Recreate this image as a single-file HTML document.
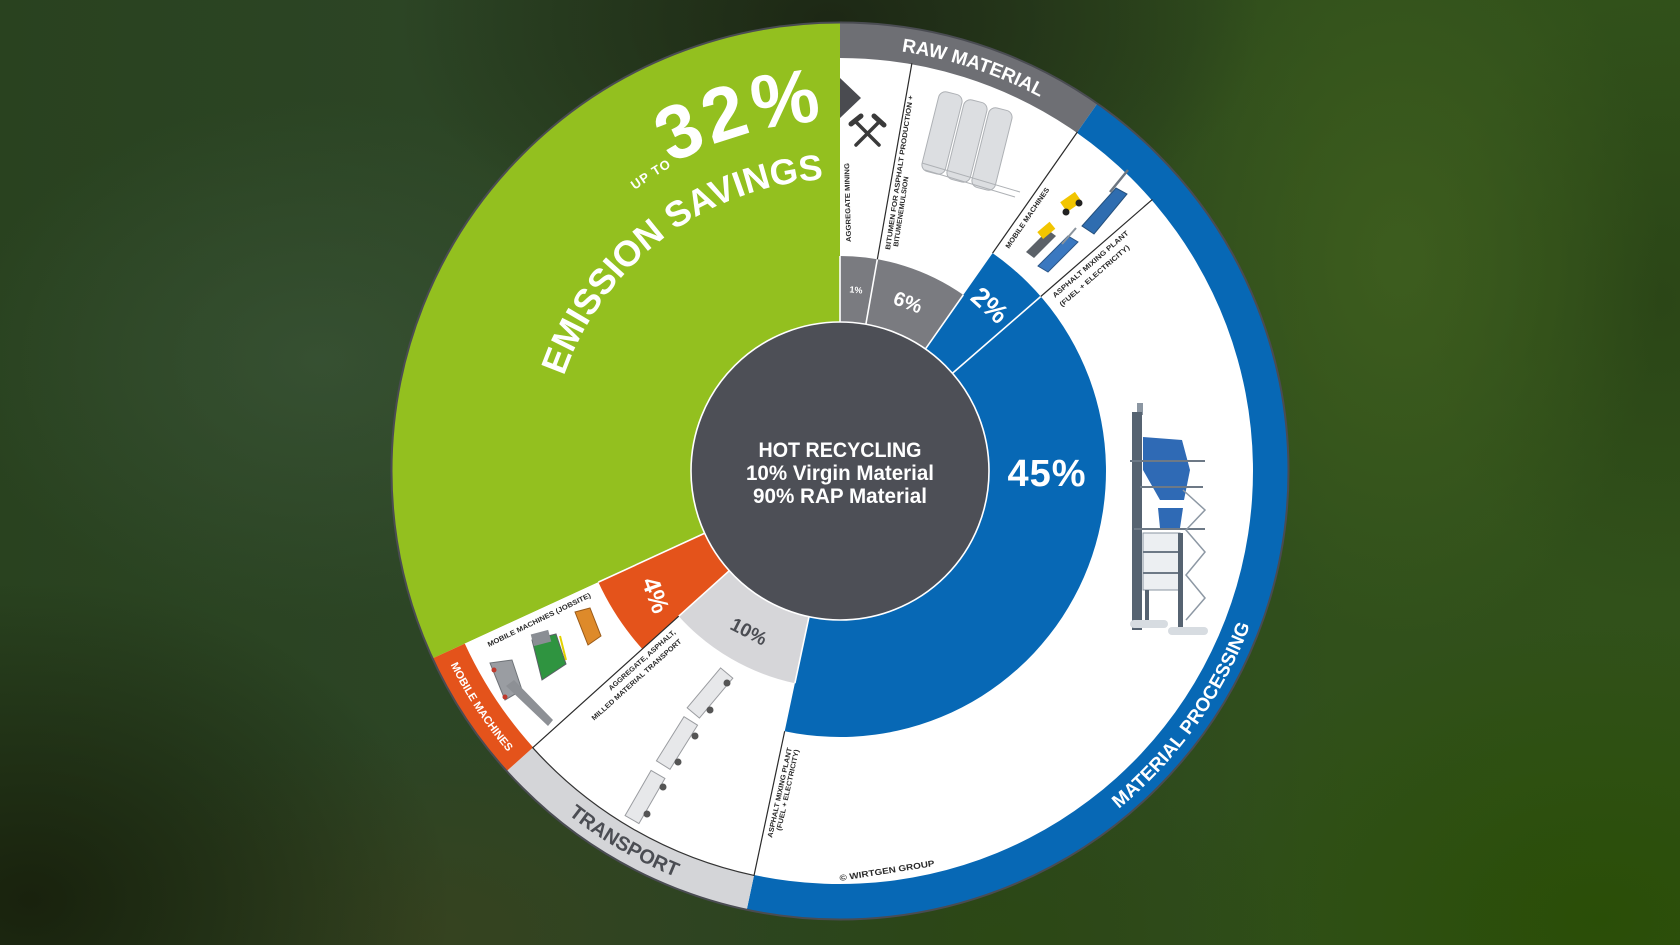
<!DOCTYPE html>
<html>
<head>
<meta charset="utf-8">
<style>
html{margin:0;padding:0;width:1680px;height:945px;overflow:hidden;}
body{margin:0;padding:0;width:1680px;height:945px;overflow:hidden;position:relative;
background:
 radial-gradient(ellipse 430px 260px at 830px 20px, rgba(28,38,20,0.95), rgba(28,38,20,0)),
 radial-gradient(ellipse 360px 260px at 320px 360px, rgba(56,82,52,0.85), rgba(56,82,52,0)),
 radial-gradient(ellipse 420px 320px at 30px 900px, rgba(24,32,12,0.95), rgba(24,32,12,0)),
 radial-gradient(ellipse 360px 200px at 430px 930px, rgba(56,66,30,0.8), rgba(56,66,30,0)),
 radial-gradient(ellipse 260px 380px at 1400px 260px, rgba(62,94,30,0.9), rgba(62,94,30,0)),
 radial-gradient(ellipse 240px 300px at 1660px 300px, rgba(42,68,22,0.85), rgba(42,68,22,0)),
 radial-gradient(ellipse 420px 300px at 1600px 920px, rgba(42,78,6,0.95), rgba(42,78,6,0)),
 radial-gradient(ellipse 300px 200px at 1000px 940px, rgba(44,72,18,0.8), rgba(44,72,18,0)),
 linear-gradient(90deg,#29421f 0%,#2c4525 25%,#2c4420 55%,#31501b 80%,#31511a 100%);
font-family:"Liberation Sans",sans-serif;}
svg{position:absolute;left:0;top:0;display:block;overflow:hidden;}
text{font-family:"Liberation Sans",sans-serif;font-weight:bold;}
</style>
</head>
<body>
<svg width="1680" height="945" viewBox="0 0 1680 945" xmlns="http://www.w3.org/2000/svg">
<defs>
 <path id="p32" d="M 840 121 A 350 350 0 0 1 840 821 A 350 350 0 0 1 840 121"/>
 <path id="pUp" d="M 840 123 A 348 348 0 0 1 840 819 A 348 348 0 0 1 840 123"/>
 <path id="pEm" d="M 840 179 A 292 292 0 0 1 840 763 A 292 292 0 0 1 840 179"/>
 <path id="pRaw" d="M 840 47 A 424 424 0 0 1 840 895 A 424 424 0 0 1 840 47"/>
 <path id="pB438" d="M 840 33 A 438 438 0 0 0 840 909 A 438 438 0 0 0 840 33"/>
 <path id="pB435" d="M 840 36 A 435 435 0 0 0 840 906 A 435 435 0 0 0 840 36"/>
</defs>

<circle cx="840" cy="471" r="449" fill="#ffffff"/>
<path d="M 840 471 L 432.99 658.21 A 448 448 0 0 1 840 23 Z" fill="#93c01f"/>
<path d="M 840 471 L 840 57 A 414 414 0 1 1 463.88 644.0 Z" fill="#ffffff"/>

<!-- category bands -->
<path d="M 840 22 A 449 449 0 0 1 1097.54 103.20 L 1076.89 132.69 A 413 413 0 0 0 840 58 Z" fill="#6e6f74"/>
<path d="M 1097.54 103.20 A 449 449 0 0 1 746.65 910.19 L 754.13 874.97 A 413 413 0 0 0 1076.89 132.69 Z" fill="#0768b5"/>
<path d="M 746.65 910.19 A 449 449 0 0 1 506.33 771.44 L 533.08 747.35 A 413 413 0 0 0 754.13 874.97 Z" fill="#d4d5d8"/>
<path d="M 506.33 771.44 A 449 449 0 0 1 432.08 658.62 L 464.79 643.58 A 413 413 0 0 0 533.08 747.35 Z" fill="#e4531b"/>
<path d="M 754.03 875.46 A 413.5 413.5 0 0 1 532.71 747.69" fill="none" stroke="#333" stroke-width="1.2"/>

<!-- middle ring -->
<path d="M 840 256 A 215 215 0 0 1 963.32 294.88 L 923.17 352.22 A 145 145 0 0 0 840 326 Z" fill="#7a7b80"/>
<path d="M 992.57 253.11 A 266 266 0 0 1 784.70 731.19 L 809.85 612.83 A 145 145 0 0 0 923.17 352.22 Z" fill="#0768b5"/>
<path d="M 794.88 683.26 A 217 217 0 0 1 678.74 616.20 L 732.24 568.02 A 145 145 0 0 0 809.85 612.83 Z" fill="#d6d6d9"/>
<path d="M 642.32 648.99 A 266 266 0 0 1 598.34 582.15 L 708.27 531.59 A 145 145 0 0 0 732.24 568.02 Z" fill="#e4531b"/>

<g stroke="#ffffff" stroke-width="1.6">
 <line x1="840" y1="322" x2="840" y2="256"/>
 <line x1="840" y1="322" x2="840" y2="256" transform="rotate(10 840 471)"/>
 <line x1="840" y1="322" x2="840" y2="256" transform="rotate(35 840 471)"/>
 <line x1="840" y1="322" x2="840" y2="205" transform="rotate(49 840 471)"/>
 <line x1="840" y1="322" x2="840" y2="254" transform="rotate(192 840 471)"/>
 <line x1="840" y1="322" x2="840" y2="254" transform="rotate(228 840 471)"/>
 <line x1="840" y1="322" x2="840" y2="205" transform="rotate(245.3 840 471)"/>
</g>
<g stroke="#2a2a2a" stroke-width="1.2">
 <line x1="840" y1="256" x2="840" y2="57" transform="rotate(10 840 471)"/>
 <line x1="840" y1="205" x2="840" y2="57" transform="rotate(35 840 471)"/>
 <line x1="840" y1="205" x2="840" y2="57" transform="rotate(49 840 471)"/>
 <line x1="840" y1="205" x2="840" y2="57" transform="rotate(192 840 471)"/>
 <line x1="840" y1="254" x2="840" y2="57" transform="rotate(228 840 471)"/>
</g>

<circle cx="840" cy="471" r="448.5" fill="none" stroke="#4a4c52" stroke-width="2"/>

<circle cx="840" cy="471" r="149" fill="#4d4f56" stroke="#ffffff" stroke-width="1.6"/>
<g fill="#ffffff" text-anchor="middle" font-size="21">
 <text x="840" y="457" textLength="163" lengthAdjust="spacingAndGlyphs">HOT RECYCLING</text>
 <text x="840" y="480" textLength="188" lengthAdjust="spacingAndGlyphs">10% Virgin Material</text>
 <text x="840" y="503" textLength="174" lengthAdjust="spacingAndGlyphs">90% RAP Material</text>
</g>

<text transform="translate(1047,486)" text-anchor="middle" font-size="38" fill="#fff" letter-spacing="1">45%</text>
<text transform="translate(908,302) rotate(20)" y="7" text-anchor="middle" font-size="20" fill="#fff">6%</text>
<text transform="translate(856,290) rotate(5)" y="3" text-anchor="middle" font-size="9" fill="#fff">1%</text>
<text transform="translate(990,305) rotate(42)" y="9.5" text-anchor="middle" font-size="27" fill="#fff">2%</text>
<text transform="translate(749,631) rotate(27)" y="7" text-anchor="middle" font-size="19" fill="#4b4d53">10%</text>
<text transform="translate(656,595) rotate(70)" y="9" text-anchor="middle" font-size="25" fill="#fff">4%</text>

<text font-size="76" fill="#fff" letter-spacing="3"><textPath href="#p32" startOffset="2022">32%</textPath></text>
<text font-size="13" fill="#fff" letter-spacing="1" text-anchor="middle"><textPath href="#pUp" startOffset="1987.9">UP TO</textPath></text>
<text font-size="36" fill="#fff"><textPath href="#pEm" startOffset="1472">EMISSION SAVINGS</textPath></text>

<text font-size="19" fill="#fff" text-anchor="middle"><textPath href="#pRaw" startOffset="135.05">RAW MATERIAL</textPath></text>
<text font-size="19" fill="#fff" text-anchor="middle"><textPath href="#pB438" startOffset="1791.9">MATERIAL PROCESSING</textPath></text>
<text font-size="20" fill="#4b4d53" text-anchor="middle"><textPath href="#pB438" startOffset="1144.8">TRANSPORT</textPath></text>
<text font-size="11" fill="#fff" text-anchor="middle"><textPath href="#pB435" startOffset="936.1">MOBILE MACHINES</textPath></text>

<g fill="#2b2b2b" font-size="7">
 <text transform="translate(851,242) rotate(-91.4)" textLength="79" lengthAdjust="spacingAndGlyphs">AGGREGATE MINING</text>
 <text transform="translate(890,250) rotate(-81.5)" textLength="156" lengthAdjust="spacingAndGlyphs">BITUMEN FOR ASPHALT PRODUCTION +</text>
 <text transform="translate(898,247) rotate(-81.5)" textLength="71" lengthAdjust="spacingAndGlyphs">BITUMENEMULSION</text>
 <text transform="translate(1009,249) rotate(-55.7)" textLength="72" lengthAdjust="spacingAndGlyphs">MOBILE MACHINES</text>
 <text transform="translate(1055,298) rotate(-40.9)" textLength="98" lengthAdjust="spacingAndGlyphs">ASPHALT MIXING PLANT</text>
 <text transform="translate(1062,307) rotate(-40.9)" textLength="90" lengthAdjust="spacingAndGlyphs">(FUEL + ELECTRICITY)</text>
 <text transform="translate(772,838) rotate(-77.5)" textLength="92" lengthAdjust="spacingAndGlyphs">ASPHALT MIXING PLANT</text>
 <text transform="translate(781,831) rotate(-77.5)" textLength="83" lengthAdjust="spacingAndGlyphs">(FUEL + ELECTRICITY)</text>
 <text transform="translate(676,633) rotate(-41.7)" text-anchor="end" textLength="87" lengthAdjust="spacingAndGlyphs">AGGREGATE, ASPHALT,</text>
 <text transform="translate(682,642) rotate(-41.9)" text-anchor="end" textLength="118" lengthAdjust="spacingAndGlyphs">MILLED MATERIAL TRANSPORT</text>
 <text transform="translate(489,647) rotate(-26.1)" textLength="114" lengthAdjust="spacingAndGlyphs">MOBILE MACHINES (JOBSITE)</text>
 <text transform="translate(840,881) rotate(-9)" font-size="8.5" textLength="96" lengthAdjust="spacingAndGlyphs">© WIRTGEN GROUP</text>
</g>

<polygon points="840,78 861,98 840,118" fill="#4a4b50"/>

<g stroke="#3a3a3a" stroke-linecap="round">
 <line x1="856" y1="122" x2="879" y2="145" stroke-width="3.5"/>
 <line x1="879" y1="122" x2="856" y2="145" stroke-width="3.5"/>
 <line x1="851" y1="124" x2="861" y2="116" stroke-width="5"/>
 <line x1="874" y1="116" x2="884" y2="125" stroke-width="5"/>
</g>

<g fill="#dcdee1" stroke="#aeb1b5" stroke-width="1">
 <rect x="930" y="92" width="24" height="82" rx="7" transform="rotate(14 942 133)"/>
 <rect x="955" y="100" width="24" height="82" rx="7" transform="rotate(14 967 141)"/>
 <rect x="980" y="108" width="24" height="82" rx="7" transform="rotate(14 992 149)"/>
 <path d="M 922 163 L 1020 192 M 925 170 L 1015 197" fill="none"/>
</g>

<g>
 <polygon points="1082,226 1116,188 1127,194 1094,234" fill="#2f6db0" stroke="#24507d" stroke-width="1"/>
 <line x1="1110" y1="192" x2="1128" y2="170" stroke="#6c7580" stroke-width="2.5"/>
 <rect x="1062" y="196" width="18" height="12" fill="#f2c500" transform="rotate(-35 1071 202)"/>
 <circle cx="1066" cy="212" r="3.5" fill="#222"/><circle cx="1079" cy="203" r="3.5" fill="#222"/>
 <polygon points="1026,252 1048,230 1056,236 1034,258" fill="#5b6168"/>
 <rect x="1038" y="226" width="16" height="9" fill="#f2c500" transform="rotate(-40 1046 230)"/>
 <polygon points="1038,266 1068,236 1078,242 1048,272" fill="#3a78c0" stroke="#2a5688" stroke-width="1"/>
 <line x1="1062" y1="244" x2="1076" y2="228" stroke="#8a939c" stroke-width="2"/>
</g>

<g>
 <rect x="1137" y="403" width="6" height="12" fill="#8b96a2"/>
 <rect x="1132" y="412" width="10" height="218" fill="#566371"/>
 <polygon points="1143,437 1182,440 1190,470 1184,500 1160,500 1143,470" fill="#2f6ab5"/>
 <polygon points="1158,508 1183,508 1180,528 1160,528" fill="#2f6ab5"/>
 <rect x="1143" y="533" width="37" height="57" fill="#eceff2" stroke="#8a96a2" stroke-width="1"/>
 <g stroke="#6d7986" stroke-width="2">
  <line x1="1130" y1="461" x2="1205" y2="461"/>
  <line x1="1140" y1="487" x2="1203" y2="487"/>
  <line x1="1134" y1="529" x2="1205" y2="529"/>
  <line x1="1143" y1="552" x2="1182" y2="552"/>
  <line x1="1143" y1="573" x2="1182" y2="573"/>
 </g>
 <rect x="1178" y="533" width="5" height="94" fill="#566371"/>
 <rect x="1145" y="590" width="4" height="30" fill="#566371"/>
 <polyline points="1183,490 1205,510 1186,530 1205,552 1186,575 1205,598 1186,620" fill="none" stroke="#8d98a4" stroke-width="1.5"/>
 <rect x="1130" y="620" width="38" height="8" rx="4" fill="#d7dce1"/>
 <rect x="1168" y="627" width="40" height="8" rx="4" fill="#d7dce1"/>
</g>

<g fill="#e7e8ea" stroke="#9a9ca0" stroke-width="1">
 <rect x="702" y="667" width="16" height="52" transform="rotate(40 710 693)"/>
 <rect x="669" y="717" width="16" height="52" transform="rotate(32 677 743)"/>
 <rect x="637" y="771" width="16" height="52" transform="rotate(30 645 797)"/>
</g>
<g fill="#555">
 <circle cx="727" cy="683" r="3.5"/><circle cx="710" cy="710" r="3.5"/>
 <circle cx="695" cy="736" r="3.5"/><circle cx="678" cy="762" r="3.5"/>
 <circle cx="663" cy="787" r="3.5"/><circle cx="647" cy="814" r="3.5"/>
</g>

<g>
 <polygon points="490,663 512,660 522,690 505,700" fill="#9a9da2" stroke="#6f7378" stroke-width="1"/>
 <polygon points="506,686 514,680 553,720 548,726" fill="#8d9095"/>
 <circle cx="494" cy="670" r="2.5" fill="#c0392b"/><circle cx="505" cy="697" r="2.5" fill="#c0392b"/>
 <polygon points="532,640 556,634 566,664 542,680" fill="#2f9440" stroke="#5a6066" stroke-width="1"/>
 <rect x="532" y="632" width="18" height="12" fill="#8a8e94" transform="rotate(-15 541 638)"/>
 <line x1="560" y1="636" x2="566" y2="660" stroke="#e3d200" stroke-width="2"/>
 <polygon points="575,612 590,608 601,636 588,645" fill="#de8a2a" stroke="#9a5a18" stroke-width="1"/>
</g>
</svg>
</body>
</html>
